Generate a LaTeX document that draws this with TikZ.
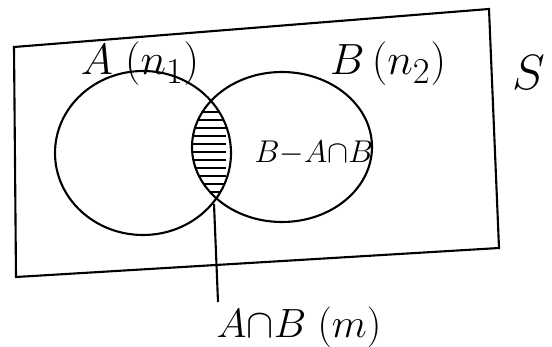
\documentclass[tikz,border=0pt]{standalone}
\usepackage{amsmath,amssymb}
\usepackage{xcolor}
\usetikzlibrary{positioning}

\begin{document}
\begin{tikzpicture}[x=0.03cm,y=-0.03cm,line width=1.8pt,
    setlbl/.style={font=\Huge,scale=1.5},
    partlbl/.style={font=\Huge,scale=1.08}]
    \useasboundingbox (0,0) rectangle (552,347);
    % universal set S
    \draw (14,47) -- (489,9) -- (499,248) -- (16,277) -- cycle;
    \draw (143,153) ellipse [x radius=88, y radius=82]; % A
    \draw (282,147) ellipse [x radius=90, y radius=75]; % B
    % hatch the intersection
    \begin{scope}
        \clip (143,153) ellipse [x radius=88, y radius=82];
        \clip (282,147) ellipse [x radius=90, y radius=75];
        \foreach \y in {112,120,...,200}
            \draw[line width=1.3pt] (190,\y) -- (226,\y);
    \end{scope}
    \node[setlbl] (lblA) at (140,64) {$A\;(n_1)$};
    \node[setlbl] (lblB) at (388,64) {$B\,(n_2)$};
    \node[font=\Huge,scale=1.7] (lblS) at (529,73) {$S$};
    \node[partlbl] (lblBmA) at (314,153) {$B{-}A{\cap}B$};
    \node[font=\Huge,scale=1.4] (lblAB) at (299,327) {$A{\cap}B\;(m)$};
    \coordinate (lensbot) at (214,204);
    \coordinate (leadend) at (218,302);
    \draw (lensbot) -- (leadend);
\end{tikzpicture}
\end{document}
